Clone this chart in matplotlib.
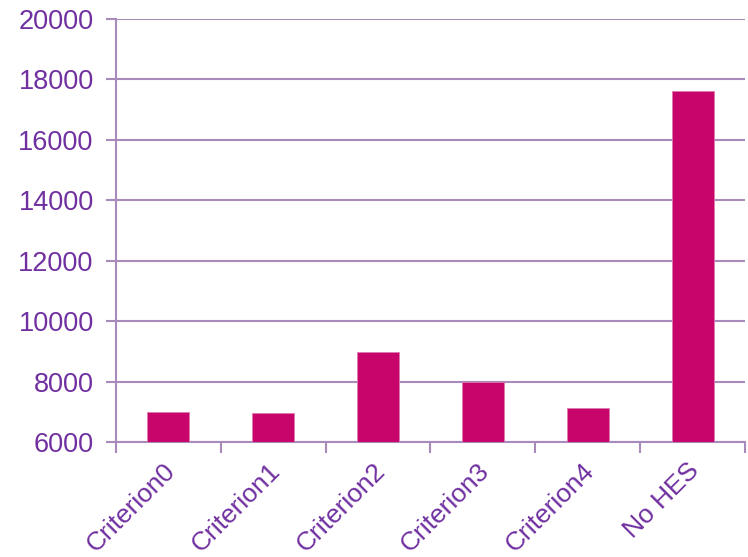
import numpy as np
import matplotlib.pyplot as plt
from matplotlib.transforms import ScaledTranslation

plt.rcParams['font.family'] = ['Liberation Sans', 'DejaVu Sans']

# data
categories = ['Criterion0', 'Criterion1', 'Criterion2', 'Criterion3', 'Criterion4', 'No HES']
values = [7000, 6970, 8980, 8000, 7110, 17620]

grid_col = '#A98BBB'
text_col = '#7030A0'
bar_col = '#C8056B'

fig = plt.figure(figsize=(7.48, 5.57), dpi=100)
ax = fig.add_axes([0.155, 0.2065, 0.841, 0.7595])

x = np.arange(len(categories))
ax.bar(x, values, width=0.4, color=bar_col, edgecolor='#E07AB0', linewidth=0.6, zorder=3)

ax.set_ylim(6000, 20000)
ax.set_xlim(-0.5, len(categories) - 0.5)
ax.set_yticks(np.arange(6000, 20001, 2000))
ax.yaxis.grid(True, color=grid_col, linewidth=1.5, zorder=0)

ax.set_xticks(x)
ax.set_xticklabels(categories, rotation=45, ha='right', va='center', rotation_mode='anchor',
                   color=text_col, fontsize=19)
ax.set_xticks(np.arange(-0.5, len(categories)), minor=True)
ax.tick_params(axis='x', which='major', length=0, pad=18)
ax.tick_params(axis='x', which='minor', length=8, width=1.5, color=grid_col)
ax.tick_params(axis='y', length=7, width=1.5, color=grid_col, labelcolor=text_col,
               labelsize=19.5, pad=9)

# nudge rotated labels so they end just right of the bar centre
offset = ScaledTranslation(3 / 100, 0, fig.dpi_scale_trans)
for lab in ax.get_xticklabels():
    lab.set_transform(lab.get_transform() + offset)

for s in ['top', 'right']:
    ax.spines[s].set_visible(False)
for s in ['left', 'bottom']:
    ax.spines[s].set_color(grid_col)
    ax.spines[s].set_linewidth(1.5)

fig.savefig('out.png', dpi=100)
